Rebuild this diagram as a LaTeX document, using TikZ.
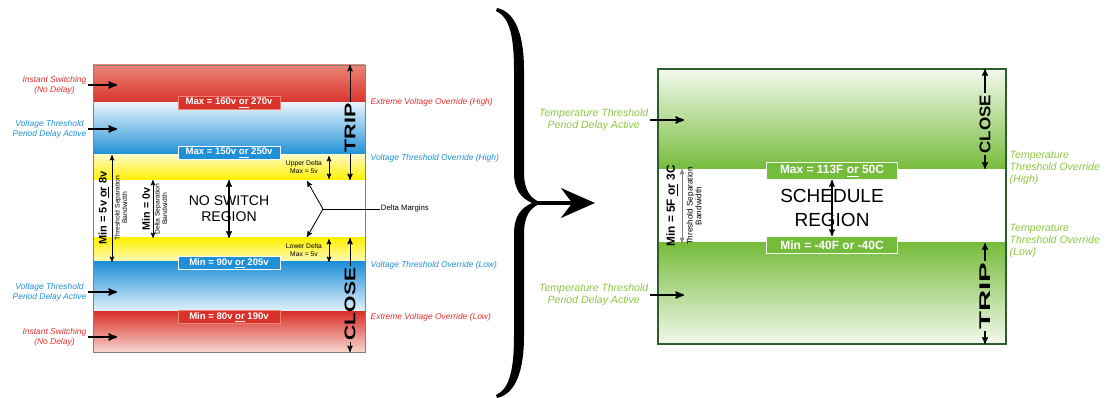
\documentclass[tikz,border=0pt]{standalone}
\usepackage{fontspec}
\setmainfont{Liberation Sans}
\usepackage{tikz}
\usetikzlibrary{arrows,arrows.meta,positioning}

\definecolor{redsat}{HTML}{D8322A}
\definecolor{redpale}{HTML}{EC8576}
\definecolor{redfade}{HTML}{F7D6CF}
\definecolor{bluesat}{HTML}{1F8FD8}
\definecolor{bluepale}{HTML}{E6F3FB}
\definecolor{yelsat}{HTML}{FFF100}
\definecolor{yelpale}{HTML}{FFFAC0}
\definecolor{grnsat}{HTML}{76BC3C}
\definecolor{grnpale}{HTML}{F2F9EC}
\definecolor{grnline}{HTML}{2E5E2A}
\definecolor{grntext}{HTML}{8DC63F}
\definecolor{redtext}{HTML}{E2302C}
\definecolor{bluetext}{HTML}{1E90D6}

\begin{document}
\begin{tikzpicture}[x=0.025cm,y=-0.025cm,>=stealth',
  side label/.style={font=\fontsize{6}{7}\selectfont\itshape,align=center,inner sep=1pt},
  temp label/.style={font=\fontsize{7.5}{8.5}\selectfont\itshape,text=grntext,inner sep=1pt},
  val box/.style={rectangle,draw=white!75!black,text=white,font=\fontsize{6.8}{7}\selectfont\bfseries,
    minimum width=2.55cm,minimum height=0.33cm,inner sep=0pt},
  temp box/.style={val box,fill=grnsat,draw=grnpale,font=\fontsize{8.5}{9}\selectfont\bfseries,
    minimum width=3.28cm,minimum height=0.43cm},
  act arrow/.style={->,line width=1.2pt},
  dim arrow/.style={<->,line width=0.5pt},
  big word/.style={rotate=90,font=\fontsize{11}{11}\selectfont\bfseries,inner sep=1pt},
  tiny note/.style={font=\fontsize{4.8}{5.4}\selectfont,align=center,inner sep=0.5pt}]

  \useasboundingbox (0,0) rectangle (1112,398);

  % voltage chart
  \shade[top color=redpale,bottom color=redsat] (93,65) rectangle (365,103);
  \shade[top color=bluepale,bottom color=bluesat] (93,103) rectangle (365,155);
  \shade[top color=yelpale,bottom color=yelsat] (93,155) rectangle (365,180);
  \shade[top color=yelsat,bottom color=yelpale] (93,238) rectangle (365,262);
  \shade[top color=bluesat,bottom color=bluepale] (93,262) rectangle (365,312);
  \shade[top color=redsat,bottom color=redfade] (93,312) rectangle (365,352);
  \draw[gray,line width=0.6pt] (93,65) rectangle (365,352);

  \node[val box,fill=redsat,draw=redpale] (vmax1) at (229,103) {Max = 160v \underline{or} 270v};
  \node[val box,fill=bluesat,draw=white] (vmax2) at (229,153) {Max = 150v \underline{or} 250v};
  \node[val box,fill=bluesat,draw=white] (vmin2) at (229,263) {Min = 90v \underline{or} 205v};
  \node[val box,fill=redsat,draw=redpale] (vmin1) at (229,317) {Min = 80v \underline{or} 190v};

  \coordinate (nsTop) at (229,180);
  \coordinate (nsBot) at (229,238);
  \draw[dim arrow,line width=0.8pt] (nsTop) -- (nsBot);
  \node[font=\fontsize{10}{11.5}\selectfont,align=center] (noswitch) at (229,209) {NO SWITCH\\REGION};

  % trip / close
  \node[big word] (tripL) at (350,128) {\scalebox{1.38}[1]{TRIP}};
  \coordinate (tripLtop) at (350,65);
  \coordinate (tripLbot) at (350,180);
  \draw[->,line width=0.7pt] (tripL.east) -- (tripLtop);
  \draw[->,line width=0.7pt] (tripL.west) -- (tripLbot);
  \node[big word] (closeL) at (350,304) {\scalebox{1.36}[1]{CLOSE}};
  \coordinate (closeLtop) at (350,238);
  \coordinate (closeLbot) at (350,352);
  \draw[->,line width=0.7pt] (closeL.east) -- (closeLtop);
  \draw[->,line width=0.7pt] (closeL.west) -- (closeLbot);

  % deltas
  \node[tiny note] (upDelta) at (304,167) {Upper Delta\\Max = 5v};
  \coordinate (upA) at (329,156);
  \coordinate (upB) at (329,179);
  \draw[dim arrow] (upA) -- (upB);
  \node[tiny note] (loDelta) at (304,250) {Lower Delta\\Max = 5v};
  \coordinate (loA) at (329,239);
  \coordinate (loB) at (329,262);
  \draw[dim arrow] (loA) -- (loB);

  \node[tiny note,anchor=west,font=\fontsize{5.5}{6}\selectfont] (dmLabel) at (380,209) {Delta Margins};
  \coordinate (dmFork) at (323,209);
  \coordinate (dmUp) at (307,181);
  \coordinate (dmDown) at (307,237);
  \draw[line width=0.6pt] (dmLabel.west) -- (dmFork);
  \draw[->,line width=0.6pt] (dmFork) -- (dmUp);
  \draw[->,line width=0.6pt] (dmFork) -- (dmDown);

  % bandwidths
  \coordinate (sepTop) at (112,155);
  \coordinate (sepBot) at (112,262);
  \draw[dim arrow] (sepTop) -- (sepBot);
  \node[rotate=90,font=\fontsize{7.8}{8}\selectfont\bfseries,inner sep=1pt] (minSep) at (104,208) {Min = 5v \underline{or} 8v};
  \node[tiny note,rotate=90] (sepNote) at (121,208) {Threshold Separation\\Bandwidth};
  \coordinate (dltTop) at (153,180);
  \coordinate (dltBot) at (153,238);
  \draw[dim arrow] (dltTop) -- (dltBot);
  \node[rotate=90,font=\fontsize{7.6}{8}\selectfont\bfseries,inner sep=1pt] (minDlt) at (146,209) {Min = 0v};
  \node[tiny note,rotate=90] (dltNote) at (161,209) {Delta Separation\\Bandwidth};

  % labels left
  \node[side label,text=redtext,anchor=east] (instTop) at (88,85) {Instant Switching\\(No Delay)};
  \node[side label,text=bluetext,anchor=east] (voltTop) at (88,129) {Voltage Threshold\\Period Delay Active};
  \node[side label,text=bluetext,anchor=east] (voltBot) at (88,292) {Voltage Threshold\\Period Delay Active};
  \node[side label,text=redtext,anchor=east] (instBot) at (88,337) {Instant Switching\\(No Delay)};
  \coordinate (instTopIn) at (117,85);
  \coordinate (voltTopIn) at (117,129);
  \coordinate (voltBotIn) at (117,292);
  \coordinate (instBotIn) at (117,337);
  \draw[act arrow] (instTop) -- (instTopIn);
  \draw[act arrow] (voltTop) -- (voltTopIn);
  \draw[act arrow] (voltBot) -- (voltBotIn);
  \draw[act arrow] (instBot) -- (instBotIn);

  % labels right
  \node[side label,text=redtext,anchor=west] (extHigh) at (369,102) {Extreme Voltage Override (High)};
  \node[side label,text=bluetext,anchor=west] (thrHigh) at (369,158) {Voltage Threshold Override (High)};
  \node[side label,text=bluetext,anchor=west] (thrLow) at (369,265) {Voltage Threshold Override (Low)};
  \node[side label,text=redtext,anchor=west] (extLow) at (369,317) {Extreme Voltage Override (Low)};

  % brace and arrow
  \fill (497,8) .. controls (516,12) and (524,36) .. (524,70) -- (524,172)
    .. controls (524,190) and (530,199) .. (542,203)
    .. controls (530,207) and (524,216) .. (524,234) -- (524,336)
    .. controls (524,370) and (516,394) .. (497,398)
    -- (496,395) .. controls (510,389) and (514,368) .. (514,336) -- (514,234)
    .. controls (514,216) and (521,208) .. (532,203)
    .. controls (521,198) and (514,190) .. (514,172) -- (514,70)
    .. controls (514,38) and (510,17) .. (496,11) -- cycle;
  \coordinate (braceTip) at (536,203);
  \coordinate (arrowTip) at (595,203);
  \draw[line width=3.5pt,-{Stealth[length=24pt,width=21pt]}] (braceTip) -- (arrowTip);

  % temperature chart
  \shade[top color=grnpale,bottom color=grnsat] (658,69) rectangle (1006,169);
  \shade[top color=grnsat,bottom color=grnpale] (658,243) rectangle (1006,344);
  \draw[grnline,line width=1.2pt] (658,69) rectangle (1006,344);

  \node[temp box] (tmax) at (832,171) {Max = 113F \underline{or} 50C};
  \node[temp box] (tmin) at (832,245) {Min = -40F or -40C};
  \draw[dim arrow,line width=0.8pt] (tmax) -- (tmin);
  \node[font=\fontsize{13.5}{17}\selectfont,align=center] (sched) at (832,208) {SCHEDULE\\REGION};

  \node[big word] (closeR) at (985,124) {\scalebox{1.1}[1]{CLOSE}};
  \coordinate (closeRtop) at (985,69);
  \coordinate (closeRbot) at (985,169);
  \draw[->,line width=0.8pt] (closeR.east) -- (closeRtop);
  \draw[->,line width=0.8pt] (closeR.west) -- (closeRbot);
  \node[big word] (tripR) at (985,296) {\scalebox{1.9}[1]{TRIP}};
  \coordinate (tripRtop) at (985,243);
  \coordinate (tripRbot) at (985,344);
  \draw[->,line width=0.8pt] (tripR.east) -- (tripRtop);
  \draw[->,line width=0.8pt] (tripR.west) -- (tripRbot);

  \coordinate (tsepTop) at (682,169);
  \coordinate (tsepBot) at (682,243);
  \draw[dim arrow,gray] (tsepTop) -- (tsepBot);
  \node[rotate=90,font=\fontsize{8.4}{9}\selectfont\bfseries,inner sep=1pt] (tminSep) at (672,206) {Min = 5F \underline{or} 3C};
  \node[tiny note,rotate=90,font=\fontsize{5.8}{6.2}\selectfont] (tsepNote) at (694,206) {Threshold Separation\\Bandwidth};

  \node[temp label,align=center,anchor=east] (tdelTop) at (650,120) {Temperature Threshold\\Period Delay Active};
  \node[temp label,align=center,anchor=east] (tdelBot) at (650,295) {Temperature Threshold\\Period Delay Active};
  \coordinate (tdelTopIn) at (684,120);
  \coordinate (tdelBotIn) at (684,295);
  \draw[act arrow] (tdelTop) -- (tdelTopIn);
  \draw[act arrow] (tdelBot) -- (tdelBotIn);

  \node[temp label,align=left,anchor=north west] (tovHigh) at (1008,150) {Temperature\\Threshold Override\\(High)};
  \node[temp label,align=left,anchor=north west] (tovLow) at (1008,223) {Temperature\\Threshold Override\\(Low)};

\end{tikzpicture}
\end{document}
